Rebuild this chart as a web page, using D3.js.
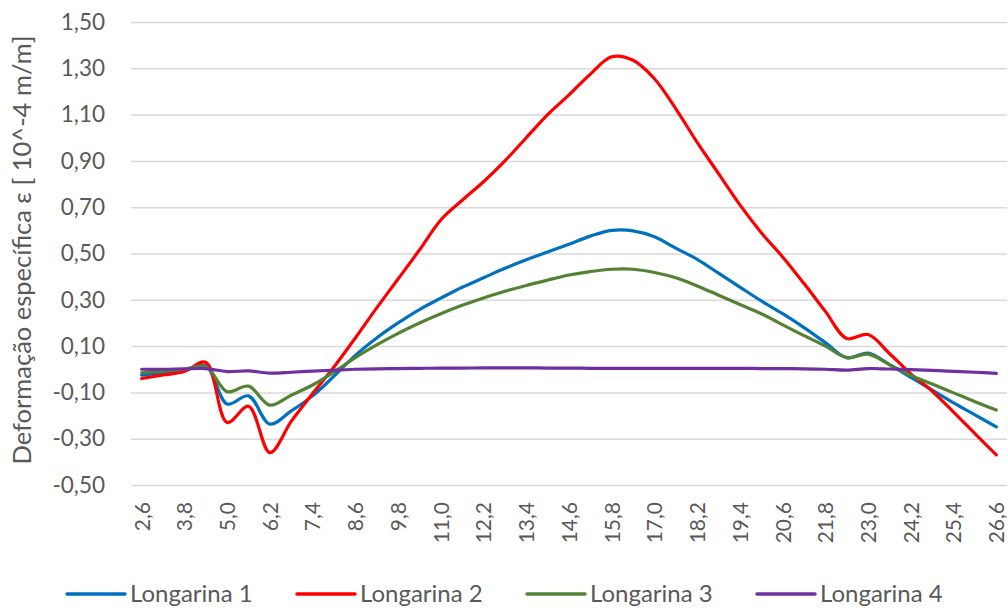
<!DOCTYPE html>
<html>
<head>
<meta charset="utf-8">
<script src="https://cdn.jsdelivr.net/npm/d3@7"></script>
<style>
  html, body { margin: 0; padding: 0; background: #fff; }
  svg text { font-family: Lato, "Open Sans", sans-serif; fill: #595959; }
</style>
</head>
<body>
<svg id="chart" width="1008" height="608"></svg>
<script>
const categories = ["2,6","3,2","3,8","4,4","5,0","5,6","6,2","6,8","7,4","8,0","8,6","9,2","9,8","10,4","11,0","11,6","12,2","12,8","13,4","14,0","14,6","15,2","15,8","16,4","17,0","17,6","18,2","18,8","19,4","20,0","20,6","21,2","21,8","22,4","23,0","23,6","24,2","24,8","25,4","26,0","26,6"];

const longarina1 = [-0.025,-0.015,-0.005,0.015,-0.15,-0.115,-0.237,-0.18,-0.115,-0.03,0.06,0.135,0.2,0.258,0.307,0.354,0.395,0.436,0.473,0.507,0.54,0.575,0.60,0.598,0.572,0.523,0.475,0.415,0.355,0.295,0.24,0.18,0.115,0.05,0.07,0.02,-0.035,-0.09,-0.145,-0.197,-0.249];
const longarina2 = [-0.04,-0.025,-0.01,0.03,-0.23,-0.16,-0.36,-0.225,-0.105,0.01,0.135,0.265,0.39,0.515,0.645,0.73,0.81,0.9,1.0,1.1,1.185,1.275,1.35,1.335,1.255,1.125,0.98,0.845,0.71,0.59,0.485,0.37,0.25,0.133,0.15,0.068,-0.02,-0.095,-0.185,-0.278,-0.37];
const longarina3 = [-0.015,-0.008,0.0,0.012,-0.097,-0.073,-0.155,-0.112,-0.068,-0.012,0.05,0.105,0.155,0.2,0.24,0.276,0.308,0.337,0.362,0.385,0.407,0.422,0.432,0.432,0.418,0.395,0.36,0.32,0.28,0.24,0.192,0.145,0.1,0.05,0.065,0.02,-0.027,-0.064,-0.102,-0.14,-0.176];
const longarina4 = [0.0,0.0,0.002,0.003,-0.01,-0.007,-0.017,-0.013,-0.008,-0.004,0.0,0.002,0.003,0.004,0.005,0.005,0.006,0.006,0.006,0.005,0.005,0.004,0.004,0.004,0.004,0.004,0.004,0.004,0.004,0.003,0.003,0.002,0.0,-0.004,0.003,0.001,-0.002,-0.005,-0.009,-0.013,-0.018];

const seriesNames = ["Longarina 1","Longarina 2","Longarina 3","Longarina 4"];
const seriesColors = ["#0070C0","#FF0000","#548235","#7030A0"];
const yTicks = [-0.5,-0.3,-0.1,0.1,0.3,0.5,0.7,0.9,1.1,1.3,1.5];
const xTickLabels = categories.filter((d,i) => i % 2 === 0);
const yTitle = "Deformação específica ε [ 10^-4 m/m]";

const allSeries = [longarina1, longarina2, longarina3, longarina4];

(function draw() {
const svg = d3.select("#chart");
const mLeft = 131, mRight = 1007, mTop = 22, mBottom = 485;

const x = d3.scalePoint().domain(categories).range([mLeft, mRight]).padding(0.5);
const y = d3.scaleLinear().domain([-0.5, 1.5]).range([mBottom, mTop]);

const fmt = v => v.toFixed(2).replace(".", ",");

const yAxis = d3.axisLeft(y).tickValues(yTicks).tickSize(-(mRight-mLeft)).tickFormat(fmt).tickPadding(26);
const gy = svg.append("g").attr("transform", `translate(${mLeft},0)`).call(yAxis);
gy.select(".domain").remove();
gy.selectAll(".tick line").attr("stroke", "#d9d9d9").attr("stroke-width", 1.5);
gy.selectAll(".tick text").attr("font-size", 22.5).style("font-family", "Lato, 'Open Sans', sans-serif").attr("fill", "#595959");

const xAxis = d3.axisBottom(x).tickValues(xTickLabels).tickSize(0).tickPadding(0);
const gx = svg.append("g").attr("transform", `translate(0,${mBottom})`).call(xAxis);
gx.select(".domain").remove();
gx.selectAll(".tick text")
  .attr("font-size", 21)
  .style("font-family", "Lato, 'Open Sans', sans-serif")
  .attr("fill", "#595959")
  .attr("text-anchor", "end")
  .attr("transform", "rotate(-90)")
  .attr("x", -17)
  .attr("y", 0)
  .attr("dy", "0.35em");

const line = d3.line()
  .x((d,i) => x(categories[i]))
  .y(d => y(d))
  .curve(d3.curveCatmullRom.alpha(0.5));

allSeries.forEach((s, k) => {
  svg.append("path")
    .datum(s)
    .attr("fill", "none")
    .attr("stroke", seriesColors[k])
    .attr("stroke-width", 3.2)
    .attr("stroke-linejoin", "round")
    .attr("stroke-linecap", "round")
    .attr("d", line);
});

svg.append("text")
  .attr("transform", "translate(31,250) rotate(-90)")
  .attr("text-anchor", "middle")
  .attr("font-size", 25.5)
  .text(yTitle);

const legend = svg.append("g").attr("transform", "translate(67,594)");
seriesNames.forEach((n, k) => {
  const g = legend.append("g").attr("transform", `translate(${k*230},0)`);
  g.append("line").attr("x1", 0).attr("x2", 58).attr("y1", 0).attr("y2", 0)
    .attr("stroke", seriesColors[k]).attr("stroke-width", 3.5).attr("stroke-linecap", "round");
  g.append("text").attr("x", 63).attr("y", 0).attr("dy", "0.35em").attr("font-size", 24).text(n);
});
})();
</script>
</body>
</html>
